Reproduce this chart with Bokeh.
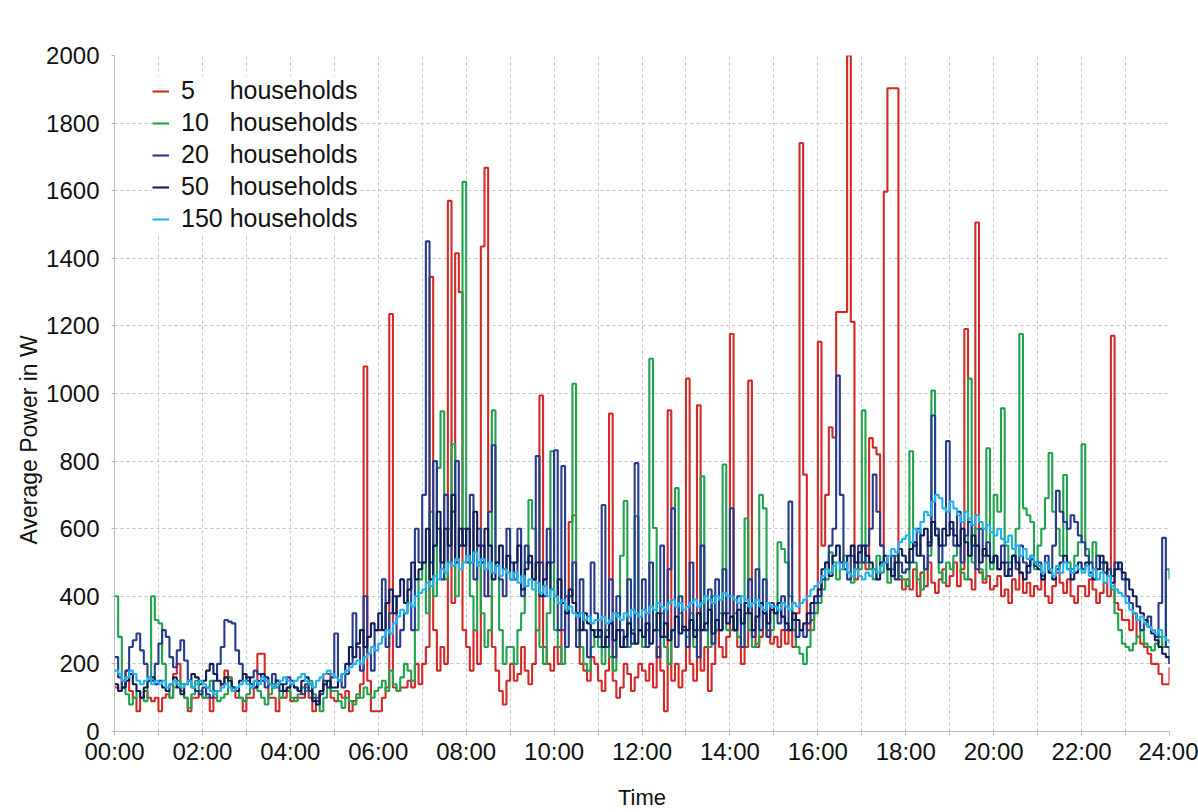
from bokeh.plotting import figure
from bokeh.models import Range1d, FixedTicker, Title
from bokeh.embed import file_html
from bokeh.resources import INLINE

# Average household power over one day, sampled every 5 minutes (00:00 .. 24:00)
minutes_step = 5

power_5 = [
    130, 120, 150, 180, 120, 100, 60, 100, 120, 100, 90, 100,
    60, 100, 110, 100, 170, 200, 120, 100, 60, 100, 100, 110,
    100, 100, 60, 100, 120, 140, 180, 160, 120, 100, 100, 60,
    100, 100, 130, 230, 230, 150, 100, 100, 60, 100, 100, 120,
    90, 100, 100, 100, 130, 100, 60, 100, 120, 170, 170, 100,
    90, 110, 100, 120, 60, 90, 100, 140, 1080, 150, 60, 60,
    60, 100, 130, 1235, 130, 120, 130, 130, 150, 130, 200, 140,
    200, 250, 1345, 300, 180, 250, 200, 1570, 380, 1415, 1300, 300,
    250, 180, 300, 200, 1435, 1668, 400, 250, 180, 120, 80, 150,
    200, 150, 170, 250, 180, 140, 200, 300, 994, 250, 200, 180,
    250, 200, 300, 400, 620, 640, 300, 200, 180, 150, 220, 200,
    150, 120, 180, 941, 150, 100, 130, 200, 170, 120, 160, 200,
    180, 150, 200, 130, 250, 180, 60, 950, 150, 200, 130, 180,
    1044, 200, 150, 965, 180, 250, 120, 200, 300, 250, 220, 280,
    1176, 300, 250, 200, 250, 1038, 300, 250, 280, 350, 300, 260,
    280, 250, 300, 260, 300, 250, 350, 1741, 760, 300, 330, 350,
    1153, 550, 700, 900, 870, 1241, 1241, 1241, 2000, 1212, 450, 500,
    500, 480, 868, 840, 820, 550, 1597, 1903, 1903, 1903, 450, 420,
    450, 420, 480, 400, 470, 430, 500, 440, 410, 450, 480, 430,
    460, 500, 430, 480, 1191, 450, 420, 1506, 470, 440, 460, 420,
    430, 460, 400, 420, 380, 450, 420, 470, 410, 440, 400, 430,
    420, 450, 400, 380, 430, 470, 440, 410, 450, 400, 380, 430,
    430, 400, 450, 420, 380, 410, 440, 400, 1171, 380, 360, 330,
    330, 300, 350, 280, 260, 250, 230, 200, 200, 170, 140, 140,
    190,
]

power_10 = [
    400, 280, 150, 110, 80, 100, 120, 100, 90, 150, 400, 330,
    320, 200, 120, 100, 130, 150, 140, 100, 70, 110, 150, 120,
    100, 130, 150, 120, 90, 100, 110, 160, 130, 120, 100, 90,
    110, 130, 150, 120, 100, 80, 110, 140, 130, 100, 120, 130,
    100, 90, 110, 130, 120, 150, 110, 90, 60, 100, 130, 120,
    120, 90, 70, 100, 90, 80, 110, 100, 130, 110, 100, 120,
    130, 150, 120, 180, 140, 120, 160, 200, 180, 150, 300, 450,
    500, 350, 650, 400, 780, 947, 450, 600, 850, 400, 550, 1626,
    600, 400, 300, 500, 350, 250, 300, 950, 500, 300, 200, 250,
    250, 200, 300, 350, 500, 685, 600, 300, 250, 200, 350, 829,
    300, 250, 200, 350, 400, 1029, 300, 250, 200, 180, 250, 300,
    250, 200, 300, 220, 180, 350, 520, 682, 250, 300, 637, 300,
    250, 300, 1103, 602, 300, 350, 250, 200, 300, 720, 350, 300,
    280, 350, 250, 300, 755, 300, 250, 400, 300, 350, 790, 300,
    300, 350, 280, 250, 630, 300, 250, 260, 700, 660, 280, 300,
    350, 560, 540, 500, 400, 300, 250, 230, 200, 250, 300, 350,
    380, 420, 450, 530, 500, 450, 480, 520, 470, 440, 500, 480,
    950, 500, 480, 450, 520, 470, 500, 440, 480, 520, 460, 450,
    430, 829, 500, 450, 420, 480, 520, 1009, 600, 470, 440, 500,
    480, 520, 550, 470, 450, 1044, 500, 600, 480, 450, 838, 480,
    700, 650, 956, 550, 500, 520, 600, 1176, 660, 640, 620, 480,
    550, 600, 690, 824, 650, 600, 520, 759, 500, 480, 520, 560,
    850, 540, 500, 560, 520, 480, 500, 460, 420, 350, 300, 260,
    250, 240, 260, 280, 300, 260, 250, 240, 260, 280, 250, 480,
    450,
]

power_20 = [
    220, 160, 130, 180, 250, 270, 290, 240, 200, 160, 150, 200,
    260, 300, 280, 220, 190, 240, 270, 210, 150, 130, 120, 110,
    130, 110, 100, 150, 200, 250, 330, 325, 320, 240, 200, 170,
    150, 160, 180, 170, 150, 130, 140, 170, 150, 120, 140, 160,
    150, 130, 120, 110, 140, 120, 100, 90, 110, 150, 130, 160,
    290, 150, 130, 170, 200, 350, 250, 180, 400, 230, 180, 300,
    300, 450, 250, 350, 400, 250, 300, 350, 450, 300, 600, 500,
    700, 1450, 500, 800, 600, 450, 700, 500, 650, 800, 550, 600,
    500, 700, 450, 600, 550, 400, 650, 847, 500, 450, 400, 600,
    500, 450, 600, 400, 550, 500, 450, 815, 500, 400, 600, 500,
    832, 300, 785, 250, 400, 500, 250, 450, 300, 220, 500, 350,
    280, 670, 250, 450, 220, 400, 300, 250, 450, 260, 794, 300,
    450, 250, 500, 300, 220, 550, 280, 480, 660, 250, 400, 300,
    250, 500, 300, 220, 550, 300, 420, 260, 450, 300, 480, 350,
    660, 300, 400, 250, 350, 450, 280, 480, 300, 450, 280, 380,
    350, 320, 400, 300, 680, 330, 280, 300, 280, 320, 350, 380,
    400, 450, 500, 550, 600, 1053, 700, 500, 450, 520, 480, 550,
    500, 550, 600, 760, 650, 550, 500, 480, 520, 450, 500, 470,
    480, 500, 550, 600, 520, 480, 560, 935, 600, 500, 550, 859,
    600, 550, 650, 500, 580, 620, 550, 480, 600, 520, 560, 500,
    520, 480, 550, 500, 460, 520, 480, 550, 500, 470, 510, 490,
    500, 460, 520, 480, 550, 712, 650, 620, 600, 640, 620, 580,
    560, 520, 500, 480, 520, 500, 470, 480, 460, 500, 480, 450,
    400, 380, 350, 330, 300, 320, 340, 300, 280, 380, 573, 250,
    200,
]

power_50 = [
    140, 120, 130, 150, 170, 140, 120, 100, 130, 150, 160, 140,
    150, 130, 120, 140, 160, 130, 110, 140, 150, 170, 160, 140,
    150, 180, 200, 170, 150, 140, 160, 150, 130, 120, 150, 170,
    160, 140, 130, 150, 170, 160, 140, 130, 150, 140, 120, 130,
    140, 130, 120, 150, 160, 140, 90, 80, 120, 140, 150, 130,
    130, 150, 170, 200, 250, 220, 260, 300, 250, 280, 320, 300,
    350, 300, 380, 420, 350, 400, 450, 380, 420, 500, 450, 480,
    500, 600, 450, 550, 650, 500, 600, 550, 700, 500, 600, 550,
    600, 500, 650, 550, 500, 600, 550, 450, 500, 550, 480, 520,
    450, 500, 550, 420, 480, 520, 450, 500, 400, 450, 500, 420,
    400, 450, 380, 350, 420, 380, 350, 300, 350, 320, 300, 280,
    300, 250, 280, 320, 270, 300, 250, 280, 320, 290, 260, 300,
    280, 320, 260, 300, 350, 280, 320, 270, 300, 340, 290, 310,
    300, 330, 280, 350, 300, 320, 360, 290, 330, 300, 350, 320,
    340, 300, 360, 320, 380, 350, 300, 340, 380, 350, 320, 360,
    350, 380, 340, 320, 300, 350, 330, 300, 320, 350, 380, 400,
    420, 480, 500, 460, 520, 550, 500, 480, 520, 550, 500, 530,
    550, 520, 500, 480, 450, 500, 520, 480, 460, 500, 540, 520,
    500, 540, 560, 520, 580, 600, 550, 620, 580, 550, 600, 580,
    620, 580, 550, 600, 560, 520, 580, 550, 500, 540, 520, 500,
    520, 480, 500, 460, 480, 520, 500, 470, 450, 490, 520, 500,
    480, 450, 500, 470, 450, 480, 500, 520, 480, 450, 470, 500,
    480, 500, 470, 450, 480, 520, 500, 460, 440, 480, 500, 470,
    450, 420, 400, 370, 350, 330, 310, 290, 270, 250, 230, 220,
    200,
]

power_150 = [
    180, 170, 150, 160, 180, 170, 150, 140, 150, 160, 140, 150,
    140, 150, 130, 140, 150, 140, 130, 140, 150, 130, 140, 150,
    140, 130, 120, 110, 120, 130, 140, 130, 120, 130, 140, 150,
    140, 130, 150, 140, 160, 150, 140, 130, 140, 150, 160, 150,
    140, 150, 160, 170, 150, 140, 130, 150, 160, 170, 180, 170,
    160, 150, 170, 180, 190, 200, 210, 200, 220, 230, 250, 240,
    260, 280, 300, 290, 320, 340, 360, 350, 380, 370, 400, 410,
    420, 440, 430, 460, 450, 480, 470, 500, 490, 510, 480, 500,
    520, 500, 530, 490, 510, 480, 500, 470, 490, 460, 480, 470,
    450, 470, 440, 460, 430, 450, 420, 440, 410, 430, 400, 420,
    400, 380, 390, 360, 370, 350, 340, 350, 330, 340, 320, 330,
    330, 340, 320, 330, 350, 340, 330, 350, 340, 360, 350, 340,
    360, 350, 370, 360, 380, 370, 360, 380, 390, 370, 380, 360,
    370, 380, 390, 370, 380, 400, 390, 380, 400, 390, 410, 400,
    400, 390, 380, 400, 390, 370, 380, 390, 370, 360, 380, 370,
    370, 360, 380, 370, 360, 380, 370, 380, 390, 400, 420, 430,
    440, 460, 480, 470, 490, 500, 480, 500, 470, 460, 480, 460,
    450, 470, 460, 480, 470, 490, 500, 520, 540, 530, 560, 570,
    580, 560, 600, 590, 620, 650, 640, 680, 700, 690, 660, 650,
    680, 660, 640, 620, 650, 630, 610, 640, 620, 600, 610, 590,
    580, 600, 570, 560, 580, 540, 550, 520, 540, 510, 520, 500,
    490, 470, 500, 480, 460, 490, 470, 500, 480, 470, 490, 480,
    470, 490, 460, 480, 450, 470, 440, 460, 430, 420, 410, 400,
    380, 360, 350, 330, 340, 320, 310, 300, 290, 300, 280, 270,
    260,
]

household_counts = ["5", "10", "20", "50", "150"]
series_colors = ["#d42a27", "#1fa34c", "#283a8c", "#0f1d5a", "#1fb3ee"]
series_values = [power_5, power_10, power_20, power_50, power_150]

hour_ticks = list(range(0, 25))
power_ticks = list(range(0, 2001, 200))

hours = [k * minutes_step / 60 for k in range(len(power_5))]

FONT = "Liberation Sans"

p = figure(
    width=1198, height=812,
    x_range=Range1d(0, 24), y_range=Range1d(0, 2000),
    output_backend="svg", toolbar_location=None,
    min_border_left=114, min_border_right=29,
    min_border_top=55, min_border_bottom=77,
    background_fill_color="white", border_fill_color="white",
)
p.outline_line_color = None

# legend labels: count column padded so that "households" lines up
NBSP = "\u00a0"
def legend_text(count):
    pad = {1: 5, 2: 3, 3: 1}[len(count)]
    return count + NBSP * pad + "households"

for count, color, values in zip(household_counts, series_colors, series_values):
    p.step(hours, values, mode="after", line_color=color, line_width=2.1,
           legend_label=legend_text(count))

# axes
p.xaxis.ticker = FixedTicker(ticks=hour_ticks)
p.xaxis.major_label_overrides = {
    h: (f"{h:02d}:00" if h % 2 == 0 else "") for h in hour_ticks
}
p.yaxis.ticker = FixedTicker(ticks=power_ticks)
p.xaxis.axis_label = "Time"

for ax in (p.xaxis, p.yaxis):
    ax.axis_line_color = "#b8b8b8"
    ax.major_tick_line_color = "#b8b8b8"
    ax.minor_tick_line_color = None
    ax.major_tick_in = 0
    ax.major_label_text_font = FONT
    ax.major_label_text_font_size = "24px"
    ax.major_label_text_color = "#111111"
    ax.axis_label_text_font = FONT
    ax.axis_label_text_font_size = "22px"
    ax.axis_label_text_font_style = "normal"
    ax.axis_label_text_color = "#111111"

p.xaxis.major_tick_out = 4
p.xaxis.major_label_standoff = 2
p.xaxis.axis_label_standoff = 17
p.yaxis.major_tick_out = 3
p.yaxis.major_label_standoff = 12

# vertical axis title, set a little below the middle of the frame
p.add_layout(Title(
    text="Average Power in W", align="left", offset=187,
    text_font=FONT, text_font_size="23px", text_font_style="normal",
    text_color="#111111", standoff=4,
), "left")

# dashed grid
for g in (p.xgrid, p.ygrid):
    g.grid_line_color = "#c4c4c4"
    g.grid_line_dash = "3 3"
    g.grid_line_width = 1

# legend
lg = p.legend[0]
lg.location = (38, 498)
lg.label_text_font = FONT
lg.label_text_font_size = "25px"
lg.label_text_color = "#111111"
lg.glyph_width = 17
lg.glyph_height = 28
lg.label_height = 28
lg.spacing = 3
lg.padding = 4
lg.margin = 0
lg.label_standoff = 12
lg.border_line_color = None
lg.background_fill_color = "white"
lg.background_fill_alpha = 1.0

open("out.html", "w").write(file_html(p, INLINE))
